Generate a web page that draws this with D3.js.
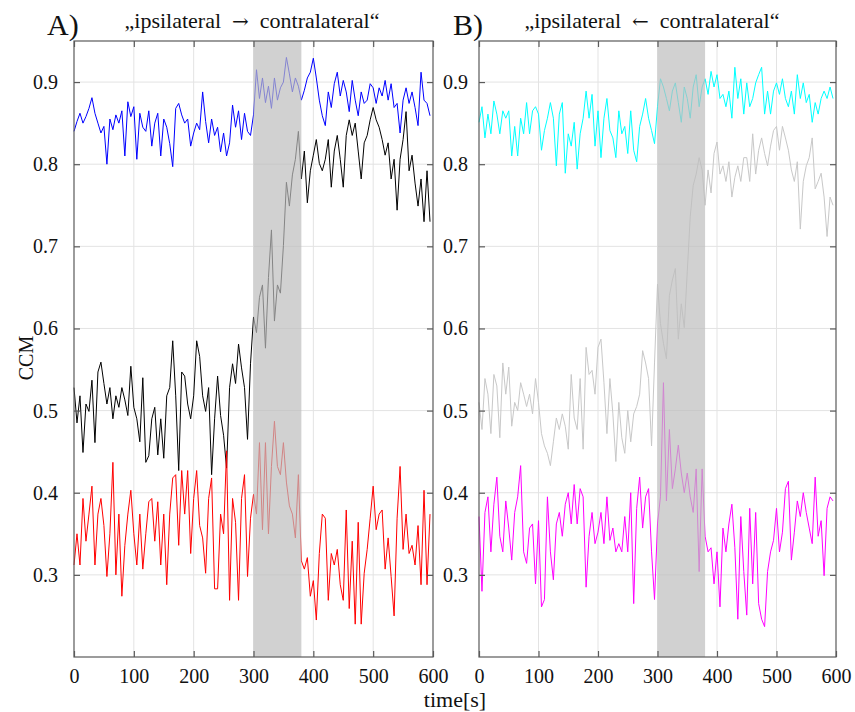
<!DOCTYPE html>
<html><head><meta charset="utf-8">
<script src="https://cdn.jsdelivr.net/npm/d3@7/dist/d3.min.js"></script>
<style>
body{margin:0;background:#fff}
text{font-family:"Liberation Serif","Times New Roman",serif;fill:#111}
</style>
</head><body>
<svg id="chart" width="855" height="712"></svg>
<script>
// sample spacing of the series (seconds)
const timeStep = 5;
const xTicks = [0,100,200,300,400,500,600];
const yTicks = [0.3,0.4,0.5,0.6,0.7,0.8,0.9];
const stimulus = [300,380];

// Panel A: ipsilateral -> contralateral
const blueA = [0.840,0.852,0.862,0.850,0.858,0.868,0.881,0.862,0.850,0.838,0.846,0.800,0.855,0.842,0.860,0.850,0.865,0.810,0.876,0.858,
0.870,0.806,0.862,0.845,0.840,0.865,0.822,0.850,0.862,0.810,0.855,0.845,0.825,0.797,0.868,0.874,0.860,0.850,0.855,0.822,
0.838,0.850,0.842,0.888,0.852,0.826,0.855,0.835,0.845,0.815,0.838,0.810,0.826,0.872,0.845,0.865,0.830,0.862,0.840,0.835,
0.860,0.915,0.880,0.905,0.875,0.895,0.868,0.905,0.878,0.893,0.900,0.930,0.910,0.888,0.905,0.895,0.878,0.890,0.905,0.912,
0.929,0.905,0.878,0.859,0.847,0.888,0.869,0.898,0.912,0.883,0.902,0.888,0.864,0.902,0.878,0.859,0.888,0.874,0.878,0.898,
0.893,0.874,0.893,0.883,0.902,0.878,0.898,0.869,0.874,0.838,0.878,0.893,0.874,0.888,0.869,0.847,0.912,0.878,0.874,0.859];
const blackA = [0.528,0.485,0.518,0.449,0.508,0.499,0.537,0.461,0.547,0.559,0.533,0.508,0.528,0.490,0.518,0.504,0.528,0.513,0.494,0.554,
0.504,0.490,0.462,0.540,0.437,0.445,0.490,0.504,0.446,0.490,0.442,0.518,0.528,0.585,0.518,0.427,0.547,0.542,0.508,0.490,
0.518,0.585,0.566,0.518,0.499,0.528,0.422,0.490,0.542,0.494,0.470,0.430,0.528,0.557,0.533,0.581,0.552,0.528,0.465,0.557,
0.614,0.595,0.638,0.653,0.576,0.662,0.720,0.609,0.653,0.643,0.701,0.778,0.749,0.787,0.806,0.840,0.782,0.816,0.753,0.792,
0.811,0.830,0.801,0.792,0.806,0.830,0.772,0.816,0.835,0.806,0.772,0.835,0.854,0.835,0.850,0.816,0.782,0.826,0.835,0.854,
0.869,0.854,0.845,0.830,0.811,0.826,0.782,0.806,0.744,0.806,0.830,0.864,0.792,0.811,0.777,0.749,0.782,0.730,0.792,0.730];
const redA = [0.312,0.350,0.312,0.393,0.341,0.374,0.408,0.312,0.374,0.393,0.360,0.298,0.350,0.437,0.300,0.374,0.274,0.336,0.374,0.403,
0.350,0.312,0.374,0.307,0.350,0.389,0.393,0.341,0.389,0.312,0.374,0.288,0.374,0.418,0.422,0.336,0.427,0.374,0.427,0.326,
0.393,0.427,0.360,0.345,0.302,0.393,0.418,0.283,0.283,0.374,0.350,0.451,0.269,0.393,0.364,0.269,0.393,0.422,0.298,0.369,
0.398,0.374,0.461,0.355,0.461,0.350,0.432,0.487,0.432,0.422,0.461,0.413,0.384,0.374,0.345,0.422,0.317,0.307,0.321,0.274,
0.293,0.245,0.326,0.374,0.369,0.269,0.326,0.312,0.331,0.288,0.269,0.379,0.259,0.341,0.240,0.364,0.240,0.302,0.331,0.369,
0.408,0.355,0.374,0.379,0.307,0.345,0.298,0.250,0.369,0.432,0.331,0.374,0.326,0.336,0.312,0.360,0.288,0.403,0.288,0.374];

// Panel B: ipsilateral <- contralateral
const cyanB = [0.851,0.870,0.832,0.861,0.837,0.877,0.861,0.837,0.865,0.856,0.865,0.810,0.846,0.810,0.856,0.837,0.875,0.837,0.865,0.870,
0.861,0.817,0.841,0.856,0.875,0.856,0.798,0.861,0.875,0.789,0.837,0.822,0.851,0.794,0.837,0.856,0.889,0.856,0.885,0.822,
0.865,0.808,0.856,0.880,0.841,0.832,0.808,0.865,0.837,0.846,0.813,0.865,0.817,0.803,0.846,0.861,0.880,0.856,0.841,0.825,
0.870,0.904,0.894,0.880,0.865,0.889,0.899,0.875,0.851,0.894,0.880,0.856,0.894,0.909,0.870,0.894,0.904,0.885,0.913,0.894,
0.909,0.880,0.885,0.870,0.889,0.856,0.918,0.880,0.904,0.861,0.899,0.870,0.880,0.899,0.909,0.918,0.861,0.889,0.861,0.889,
0.899,0.885,0.904,0.880,0.870,0.889,0.861,0.909,0.880,0.899,0.875,0.885,0.851,0.875,0.861,0.880,0.889,0.880,0.894,0.880];
const grayB = [0.510,0.477,0.539,0.520,0.472,0.544,0.530,0.467,0.558,0.520,0.553,0.481,0.510,0.500,0.534,0.520,0.505,0.520,0.496,0.539,
0.510,0.472,0.457,0.448,0.433,0.462,0.491,0.477,0.496,0.481,0.453,0.544,0.491,0.477,0.539,0.453,0.577,0.544,0.549,0.520,
0.577,0.587,0.534,0.472,0.539,0.496,0.438,0.510,0.467,0.448,0.500,0.462,0.496,0.505,0.520,0.573,0.558,0.539,0.457,0.558,
0.654,0.606,0.582,0.563,0.640,0.659,0.673,0.587,0.630,0.601,0.669,0.736,0.774,0.788,0.808,0.793,0.750,0.793,0.765,0.813,
0.827,0.788,0.798,0.779,0.803,0.760,0.784,0.798,0.779,0.808,0.808,0.779,0.837,0.788,0.817,0.832,0.813,0.798,0.822,0.841,
0.846,0.817,0.846,0.832,0.817,0.793,0.779,0.803,0.721,0.779,0.798,0.808,0.832,0.770,0.779,0.789,0.760,0.712,0.760,0.750];
const magentaB = [0.371,0.280,0.376,0.395,0.328,0.386,0.419,0.347,0.328,0.390,0.357,0.318,0.376,0.395,0.433,0.328,0.314,0.357,0.362,0.289,
0.366,0.261,0.270,0.395,0.328,0.294,0.362,0.376,0.347,0.386,0.400,0.362,0.410,0.362,0.405,0.395,0.285,0.347,0.376,0.338,
0.352,0.376,0.338,0.395,0.342,0.357,0.328,0.338,0.328,0.371,0.328,0.400,0.265,0.381,0.419,0.357,0.395,0.405,0.328,0.270,
0.362,0.395,0.534,0.390,0.477,0.405,0.429,0.458,0.424,0.400,0.424,0.395,0.376,0.429,0.304,0.429,0.347,0.328,0.333,0.289,
0.328,0.261,0.357,0.328,0.362,0.386,0.333,0.246,0.371,0.304,0.251,0.381,0.289,0.376,0.265,0.246,0.237,0.304,0.328,0.342,
0.381,0.328,0.352,0.405,0.414,0.318,0.352,0.390,0.371,0.400,0.376,0.357,0.338,0.419,0.347,0.366,0.299,0.381,0.395,0.390];

const panels = [
  {left:74, right:433, top:41, bottom:657, labelGap:10, tag:'A)', tagX:47, titleParts:['\u201Eipsilateral\u2002','\u2192','\u2002contralateral\u201C'], titleX:252,
   series:[{data:blueA,color:'#0000ff'},{data:blackA,color:'#000000'},{data:redA,color:'#ff0000'}]},
  {left:479, right:836, top:41, bottom:657, labelGap:5, tag:'B)', tagX:453, titleParts:['\u201Eipsilateral\u2002','\u2190','\u2002contralateral\u201C'], titleX:652,
   series:[{data:cyanB,color:'#00ffff'},{data:grayB,color:'#c8c8c8'},{data:magentaB,color:'#ff00ff'}]}
];

const svg = d3.select('#chart');
const axisColor = '#5a5a5a';

panels.forEach(p => {
  const x = d3.scaleLinear().domain([0,600]).range([p.left,p.right]);
  const y = d3.scaleLinear().domain([0.2,0.95]).range([p.bottom,p.top]);
  const g = svg.append('g');

  // grid
  g.selectAll('.gx').data(xTicks.slice(1,-1)).join('line')
    .attr('x1',d=>x(d)).attr('x2',d=>x(d)).attr('y1',p.top).attr('y2',p.bottom)
    .attr('stroke','#e3e3e3').attr('stroke-width',1);
  g.selectAll('.gy').data(yTicks).join('line')
    .attr('x1',p.left).attr('x2',p.right).attr('y1',d=>y(d)).attr('y2',d=>y(d))
    .attr('stroke','#e3e3e3').attr('stroke-width',1);

  // series
  const line = d3.line().x((d,i)=>x(i*timeStep)).y(d=>y(d));
  p.series.forEach(s => {
    g.append('path').datum(s.data).attr('d',line)
      .attr('fill','none').attr('stroke',s.color).attr('stroke-width',1)
      .attr('stroke-linejoin','round');
  });

  // stimulus patch
  g.append('rect').attr('x',x(stimulus[0])).attr('width',x(stimulus[1])-x(stimulus[0]))
    .attr('y',p.top).attr('height',p.bottom-p.top)
    .attr('fill','#bdbdbd').attr('opacity',0.7);

  // frame
  g.append('rect').attr('x',p.left).attr('y',p.top).attr('width',p.right-p.left).attr('height',p.bottom-p.top)
    .attr('fill','none').attr('stroke',axisColor).attr('stroke-width',1.2);

  // axes with inward ticks
  const xb = d3.axisBottom(x).tickValues(xTicks).tickSizeInner(-6).tickSizeOuter(0).tickPadding(12).tickFormat(d3.format('d'));
  const xt = d3.axisTop(x).tickValues(xTicks).tickSizeInner(-6).tickSizeOuter(0).tickFormat('');
  const yl = d3.axisLeft(y).tickValues(yTicks).tickSizeInner(-6).tickSizeOuter(0).tickPadding(p.labelGap+6).tickFormat(d3.format('.1f'));
  const yr = d3.axisRight(y).tickValues(yTicks).tickSizeInner(-6).tickSizeOuter(0).tickFormat('');
  [[xb,`translate(0,${p.bottom})`],[xt,`translate(0,${p.top})`],[yl,`translate(${p.left},0)`],[yr,`translate(${p.right},0)`]]
  .forEach(([ax,tr]) => {
    const a = g.append('g').attr('transform',tr).call(ax);
    a.select('.domain').remove();
    a.selectAll('line').attr('stroke',axisColor).attr('stroke-width',1.2);
    a.selectAll('text').attr('font-size',20).attr('font-family','"Liberation Serif",serif').attr('fill','#111');
  });

  // titles
  svg.append('text').attr('x',p.tagX).attr('y',35).attr('font-size',30).text(p.tag);
  const t = svg.append('text').attr('x',p.titleX).attr('y',28).attr('text-anchor','middle').attr('font-size',22);
  t.append('tspan').text(p.titleParts[0]);
  t.append('tspan').attr('font-family','"DejaVu Serif",serif').attr('font-size',20).text(p.titleParts[1]);
  t.append('tspan').text(p.titleParts[2]);
});

svg.append('text').attr('transform','translate(33,358) rotate(-90)').attr('text-anchor','middle').attr('font-size',20).text('CCM');
svg.append('text').attr('x',455).attr('y',707).attr('text-anchor','middle').attr('font-size',22).text('time[s]');
</script>
</body></html>
